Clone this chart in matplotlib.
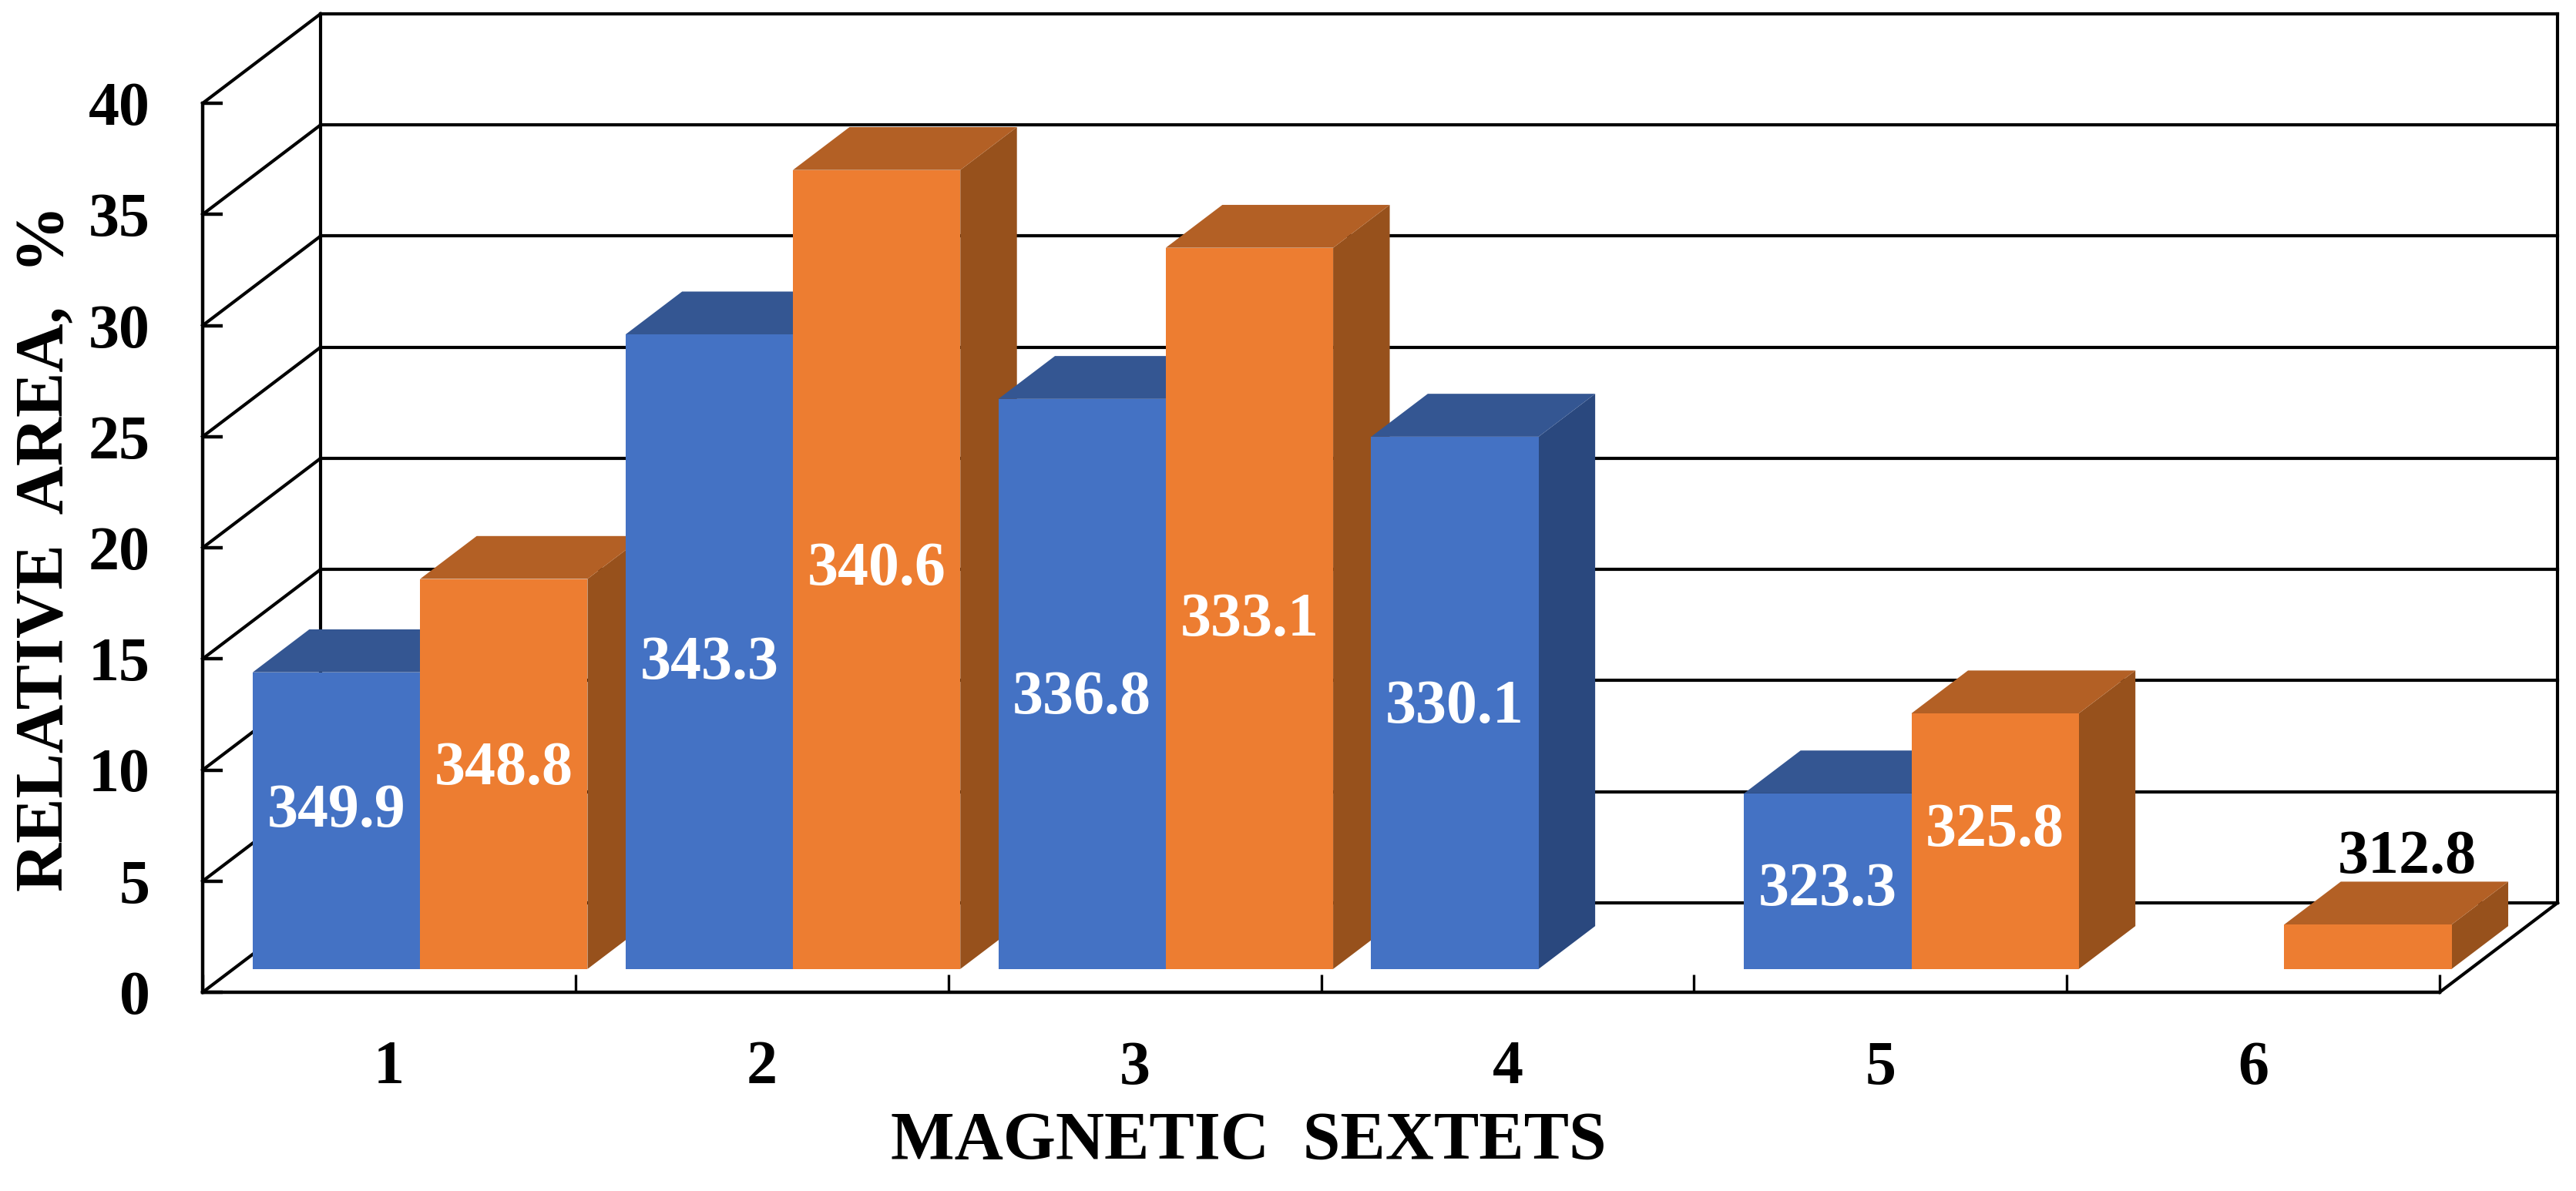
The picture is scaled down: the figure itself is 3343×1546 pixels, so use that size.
import numpy as np
import matplotlib
matplotlib.use('Agg')
import matplotlib.pyplot as plt

# values
sextets = ['1', '2', '3', '4', '5', '6']
blue_values = [13.35, 28.55, 25.65, 23.95, 7.9, 0.0]
orange_values = [17.55, 35.95, 32.45, 0.0, 11.5, 2.0]
blue_labels = ['349.9', '343.3', '336.8', '330.1', '323.3', '']
orange_labels = ['348.8', '340.6', '333.1', '', '325.8', '312.8']
yticks = [0, 5, 10, 15, 20, 25, 30, 35, 40]

W, H = 3343, 1546
FONT = 'Liberation Serif'
FS = 57.6
TITLE_FS = 63

# 3d look, in data units: offset of the back wall from the front plane
DX = 153 / 483.8
DY = 116 / 28.84
BAR_FROM = 0.26
BAR_TO = 0.74
BAR_W = 0.449
LW = 3.0


def depth(x, y, d):
    return x + d * DX, y + d * DY


def box(x, v, front, top, side, z):
    x0, y0 = depth(x, 0, BAR_FROM)
    ax.bar(x0, v, BAR_W, bottom=y0, align='edge', color=front, lw=0, zorder=z + 0.2, clip_on=False)
    dx = (BAR_TO - BAR_FROM) * DX
    dy = (BAR_TO - BAR_FROM) * DY
    ax.fill([x0, x0 + BAR_W, x0 + BAR_W + dx, x0 + dx],
            [y0 + v, y0 + v, y0 + v + dy, y0 + v + dy], color=top, lw=0, zorder=z + 0.1, clip_on=False)
    ax.fill([x0 + BAR_W, x0 + BAR_W + dx, x0 + BAR_W + dx, x0 + BAR_W],
            [y0, y0 + dy, y0 + v + dy, y0 + v], color=side, lw=0, zorder=z, clip_on=False)


fig = plt.figure(figsize=(W / 100, H / 100), dpi=100)
ax = fig.add_axes([263 / W, 1 - 1288 / H, 2903 / W, 1154 / H])
ax.set_xlim(0, 6)
ax.set_ylim(0, 40)
ax.patch.set_alpha(0)

# walls and floor
for t in yticks:
    bx, by = depth(0, t, 1)
    ax.plot([0, bx], [t, by], color='black', lw=LW, zorder=1, clip_on=False)
    ax.plot([bx, 6 + DX], [by, by], color='black', lw=LW, zorder=1, clip_on=False)
bx, by = depth(0, 40, 1)
ax.plot([bx, bx], [DY, by], color='black', lw=LW, zorder=1, clip_on=False)
ax.plot([6 + DX, 6 + DX], [DY, by], color='black', lw=LW, zorder=1, clip_on=False)
ax.plot([6, 6 + DX], [0, DY], color='black', lw=LW, zorder=1, clip_on=False)

# bars
for i in range(len(sextets)):
    x = i + 0.052
    if blue_values[i] > 0:
        box(x, blue_values[i], '#4472C4', '#345692', '#2A487E', 2 + i)
    if orange_values[i] > 0:
        box(x + BAR_W, orange_values[i], '#ED7D31', '#B36025', '#97511C', 2.5 + i)

# data labels sit near the middle of the front face
blue_nudge = [0.4, -0.55, -0.65, -0.2, -0.4, 0]
orange_nudge = [0.2, 0.0, -0.55, 0, 0.45, 4.0]
for i in range(len(sextets)):
    x0, y0 = depth(i + 0.052, 0, BAR_FROM)
    if blue_labels[i]:
        ax.text(x0 + BAR_W / 2, y0 + blue_values[i] / 2 + blue_nudge[i], blue_labels[i], color='white',
                ha='center', va='center', family=FONT, weight='bold', fontsize=FS, zorder=20)
    if orange_labels[i]:
        col = 'black' if sextets[i] == '6' else 'white'
        shift = 0.105 if sextets[i] == '6' else 0
        ax.text(x0 + 1.5 * BAR_W + shift, y0 + orange_values[i] / 2 + orange_nudge[i], orange_labels[i], color=col,
                ha='center', va='center', family=FONT, weight='bold', fontsize=FS, zorder=20)

# axes
ax.spines['top'].set_visible(False)
ax.spines['right'].set_visible(False)
ax.spines['left'].set_linewidth(3.2)
ax.spines['bottom'].set_linewidth(3.2)
ax.set_yticks(yticks)
ax.set_xticks(range(7))
ax.set_xticklabels([])
ax.set_xticks(np.arange(6) + 0.5, sextets, minor=True)
ax.tick_params(axis='y', direction='in', length=18.7, width=3.2, pad=49)
ax.tick_params(axis='x', which='major', direction='in', length=16.5, width=2.4)
ax.tick_params(axis='x', which='minor', length=0, pad=45)
for lab in ax.get_yticklabels() + ax.get_xticklabels(minor=True):
    lab.set_family(FONT)
    lab.set_weight('bold')
    lab.set_fontsize(FS)

fig.text(1620 / W, 1 - 1482 / H, 'MAGNETIC  SEXTETS', ha='center', va='center',
         family=FONT, weight='bold', fontsize=TITLE_FS)
fig.text(60 / W, 1 - 712 / H, 'RELATIVE  AREA,  %', ha='center', va='center', rotation=90,
         family=FONT, weight='bold', fontsize=TITLE_FS)

fig.savefig('out.png', dpi=100, facecolor='white')
